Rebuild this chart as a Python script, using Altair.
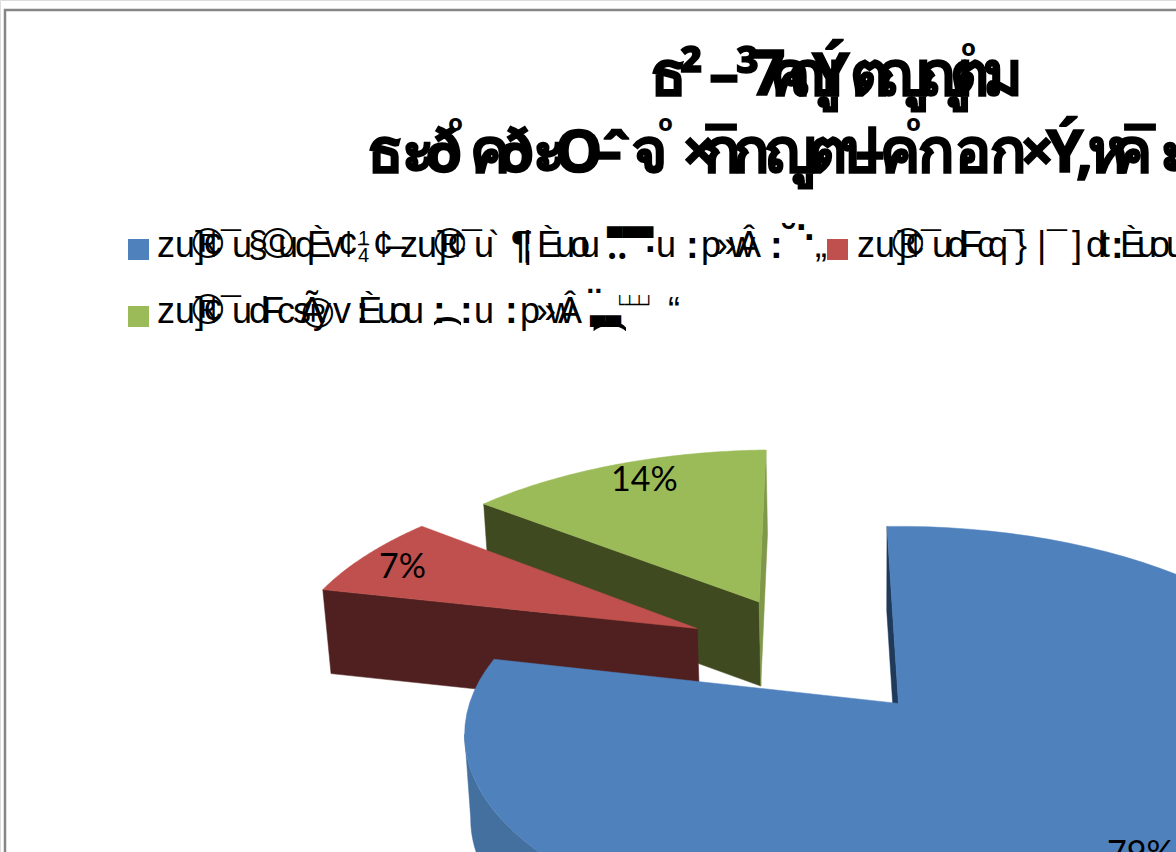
import math
import altair as alt
import pandas as pd

# Slice shares, in percent, clockwise from the top
shares = [79, 7, 14]
top_colors = ["#4f81bd", "#c0504d", "#9bbb59"]
wall_colors = ["#1f3a5a", "#4f201f", "#404a21"]
side_blue = "#44709f"
side_green = "#80984a"

W, H = 1176, 852
x_scale = alt.Scale(domain=[0, W], range=[0, W], nice=False, zero=False)
y_scale = alt.Scale(domain=[0, H], range=[0, H], nice=False, zero=False)

# Perspective of the tilted pie
CX, CY, RX, RY, K, EXPLODE, DEPTH, VANISH = 813.5, 654.3, 414, 189.4, 0.15, 0.322, 84, 870
ROLL = 5
START = 0


def project(gx, gz, lowered=False):
    s = 1 / (1 + K * gz)
    px = CX + RX * gx * s
    py = CY - RY * gz * s - ROLL * gx * s
    if lowered:
        px += (VANISH - px) * DEPTH / 5600
        py += DEPTH
    return px, py


def slice_frames():
    out = []
    start = START
    for share in shares:
        end = start + share * 3.6
        mid = math.radians((start + end) / 2)
        out.append((start, end, EXPLODE * math.sin(mid), EXPLODE * math.cos(mid)))
        start = end
    return out


def rim(frame, a0, a1, lowered=False, n=90):
    _, _, ax, az = frame
    pts = []
    for i in range(n + 1):
        t = math.radians(a0 + (a1 - a0) * i / n)
        pts.append(project(ax + math.sin(t), az + math.cos(t), lowered))
    return pts


def apex(frame, lowered=False):
    return [project(frame[2], frame[3], lowered)]


def polygon(pts, color):
    pts = list(pts) + [pts[0]]
    df = pd.DataFrame({"px": [p[0] for p in pts], "py": [p[1] for p in pts], "i": range(len(pts))})
    return (
        alt.Chart(df)
        .mark_line(fill=color, stroke=color, strokeWidth=0.5, clip=True)
        .encode(
            x=alt.X("px:Q", scale=x_scale, axis=None),
            y=alt.Y("py:Q", scale=y_scale, axis=None),
            order="i:Q",
        )
    )


def wall(frame, angle):
    return rim(frame, angle, angle, n=1)[:1] + rim(frame, angle, angle, True, n=1)[:1] + apex(frame, True) + apex(frame)


blue, red, green = slice_frames()
layers = []

# Green slice: front wall, grazing right wall, top
layers.append(polygon(wall(green, green[0]), wall_colors[2]))
layers.append(polygon(wall(green, green[1]), side_green))
layers.append(polygon(rim(green, green[0], green[1]) + apex(green), top_colors[2]))

# Red slice: front wall, top
layers.append(polygon(wall(red, red[0]), wall_colors[1]))
layers.append(polygon(rim(red, red[0], red[1]) + apex(red), top_colors[1]))

# Blue slice: inner wall, outer side up to its left silhouette, top
blue_angles = [blue[0] + 150 + i for i in range(int(blue[1] - blue[0] - 150))]
tangent = min(blue_angles, key=lambda a: rim(blue, a, a, n=1)[0][0])
layers.append(polygon(wall(blue, blue[0]), wall_colors[0]))
layers.append(polygon(rim(blue, blue[0] + 150, tangent) + rim(blue, tangent, blue[0] + 150, True), side_blue))
layers.append(polygon(rim(blue, blue[0], blue[1]) + apex(blue), top_colors[0]))

# Outer frame, open on the cropped sides
frame_df = pd.DataFrame({"px": [5, 5, 1176], "py": [852, 10, 10], "i": range(3)})
layers.append(
    alt.Chart(frame_df).mark_line(color="#868686", strokeWidth=2.5, clip=True).encode(
        x=alt.X("px:Q", scale=x_scale, axis=None), y=alt.Y("py:Q", scale=y_scale, axis=None), order="i:Q"
    )
)


def text_layer(rows, weight="normal", font="Liberation Sans", stroke=0.0):
    df = pd.DataFrame(rows, columns=["t", "px", "py", "s"])
    return alt.Chart(df).mark_text(
        align="left", baseline="alphabetic", fontWeight=weight, font=font, clip=True,
        color="black", stroke="black", strokeWidth=stroke,
    ).encode(
        x=alt.X("px:Q", scale=x_scale, axis=None),
        y=alt.Y("py:Q", scale=y_scale, axis=None),
        text="t:N",
        size=alt.Size("s:Q", scale=None, legend=None),
    )


# Title: the two lines, glyph by glyph
title_1 = [("ธ", 650), ("–", 709), ("ค", 770), ("ญู", 790), ("Ý", 812), ("ต", 850), ("ญู", 878), ("ญู", 920), ("ต", 950), ("ม", 983)]
title_1_marks = [("²", 680), ("³", 736)]
title_1_rings = [("o", 961, 56)]
title_2 = [("ธ", 367), ("ะ", 402), ("ð", 425), ("ค", 470), ("ð", 497), ("ะ", 533), ("O", 555), ("–", 592), ("จ", 632),
           ("×", 682), ("ก", 704), ("ก", 733), ("ญู", 765), ("ต", 808), ("ป", 840), ("–", 855), ("ค", 880), ("ก", 918),
           ("อ", 955), ("ก", 990), ("×", 1020), ("Ý", 1046), (",", 1076), ("ห", 1088), ("ค", 1112), ("ะ", 1160)]
title_2_marks = [("ˆ", 602), ("¯", 706), ("¯", 1125)]
title_2_rings = [("o", 448, 131), ("o", 658, 131), ("o", 906, 131)]
layers.append(text_layer([(t, x, 95, 60) for t, x in title_1], "bold", "Noto Sans", 1.5))
layers.append(text_layer([(t, x, 97, 60) for t, x in title_1_marks], "bold", "Noto Sans", 1.5))
layers.append(text_layer([("7", 750, 95, 62)], "bold", "Noto Sans", 1.5))
layers.append(text_layer([(t, x, 172, 60) for t, x in title_2], "bold", "Noto Sans", 1.5))
layers.append(text_layer([(t, x, 175, 60) for t, x in title_2_marks], "bold", "Noto Sans", 1.5))
layers.append(text_layer([(t, x, y, 24) for t, x, y in title_1_rings + title_2_rings], "bold", "Noto Sans"))

# Legend entries: the thin letters of each row
row_1_blue = [("z", 157), ("u", 175), ("]", 195), ("¢", 203), ("¯", 221), ("u", 232), ("§", 248), ("u", 278), ("q", 295),
              ("È", 307), ("v", 325), ("¢", 338), ("¢", 373), ("–", 386), ("z", 400), ("u", 417), ("]", 437), ("¢", 447),
              ("¯", 462), ("u", 474), ("`", 488), ("¦", 523), ("È", 537), ("u", 555), ("o", 570), ("u", 580),
              ("u", 656), ("p", 701), ("»", 716), ("w", 729), ("Â", 737), ("„", 815)]
row_1_red = [("z", 857), ("u", 875), ("]", 897), ("¢", 905), ("¯", 921), ("u", 932), ("d", 947), ("F", 960), ("c", 977),
             ("q", 988), ("¯", 1004), ("}", 1015), ("|", 1037), ("¯", 1047), ("]", 1072), ("d", 1086), ("t", 1100),
             ("È", 1120), ("u", 1137), ("o", 1150), ("u", 1166)]
row_2_green = [("z", 157), ("u", 175), ("]", 195), ("¢", 203), ("¯", 221), ("u", 232), ("d", 249), ("F", 262), ("c", 277),
               ("s", 293), ("Ã", 300), ("y", 313), ("v", 333), ("È", 358), ("u", 377), ("o", 390), ("u", 404),
               ("u", 474), ("p", 520), ("»", 536), ("w", 548), ("Â", 558), ("“", 668)]
large_glyphs = [("®", 192, 258), ("©", 262, 258), ("®", 434, 258), ("®", 892, 258), ("®", 192, 324), ("®", 302, 328)]
stacked = [("1", 358, 245), ("4", 358, 262), ("–", 358, 250)]
dot_marks = [("‥", 607, 258), ("·", 645, 262), (":", 686, 258), (":", 770, 258), ("·", 796, 240), ("·", 804, 250),
             ("˘", 783, 252), (":", 1111, 258), (":", 433, 323), (":", 460, 323), (":", 505, 323), (":", 356, 323),
             ("¨", 588, 316), ("¶", 511, 258)]
bars = [("▀▀▀", 607, 245, 20), ("▀▀", 590, 334, 20)]
arcs = [("⌢", 431, 333, 50), ("⌢", 590, 341, 60), ("└┴┴┘", 615, 310, 16)]

layers.append(text_layer([(t, x, 257, 36) for t, x in row_1_blue + row_1_red]))
layers.append(text_layer([(t, x, 323, 36) for t, x in row_2_green]))
layers.append(text_layer([(t, x, y, 43) for t, x, y in large_glyphs]))
layers.append(text_layer([(t, x, y, 20) for t, x, y in stacked]))
layers.append(text_layer([(t, x, y, 38) for t, x, y in dot_marks], "bold"))
layers.append(text_layer(bars + arcs, font="DejaVu Sans"))

legend_df = pd.DataFrame({"px": [138.5, 837.5, 138.5], "py": [249.5, 249.5, 316.5], "c": top_colors})
layers.append(
    alt.Chart(legend_df).mark_square(size=441, opacity=1).encode(
        x=alt.X("px:Q", scale=x_scale, axis=None), y=alt.Y("py:Q", scale=y_scale, axis=None),
        color=alt.Color("c:N", scale=None),
    )
)

# Percentage labels
labels = [(f"{shares[0]}%", 1107, 865, 34), (f"{shares[1]}%", 379, 578, 34), (f"{shares[2]}%", 611, 491, 34)]
layers.append(text_layer(labels, font="Lato"))

chart = (
    alt.layer(*layers)
    .properties(width=W, height=H, padding=0, autosize=alt.AutoSizeParams(type="none"))
    .configure_view(stroke=None)
    .configure(background="white")
)
chart.save("out.html", embed_options={"renderer": "svg", "actions": False})
